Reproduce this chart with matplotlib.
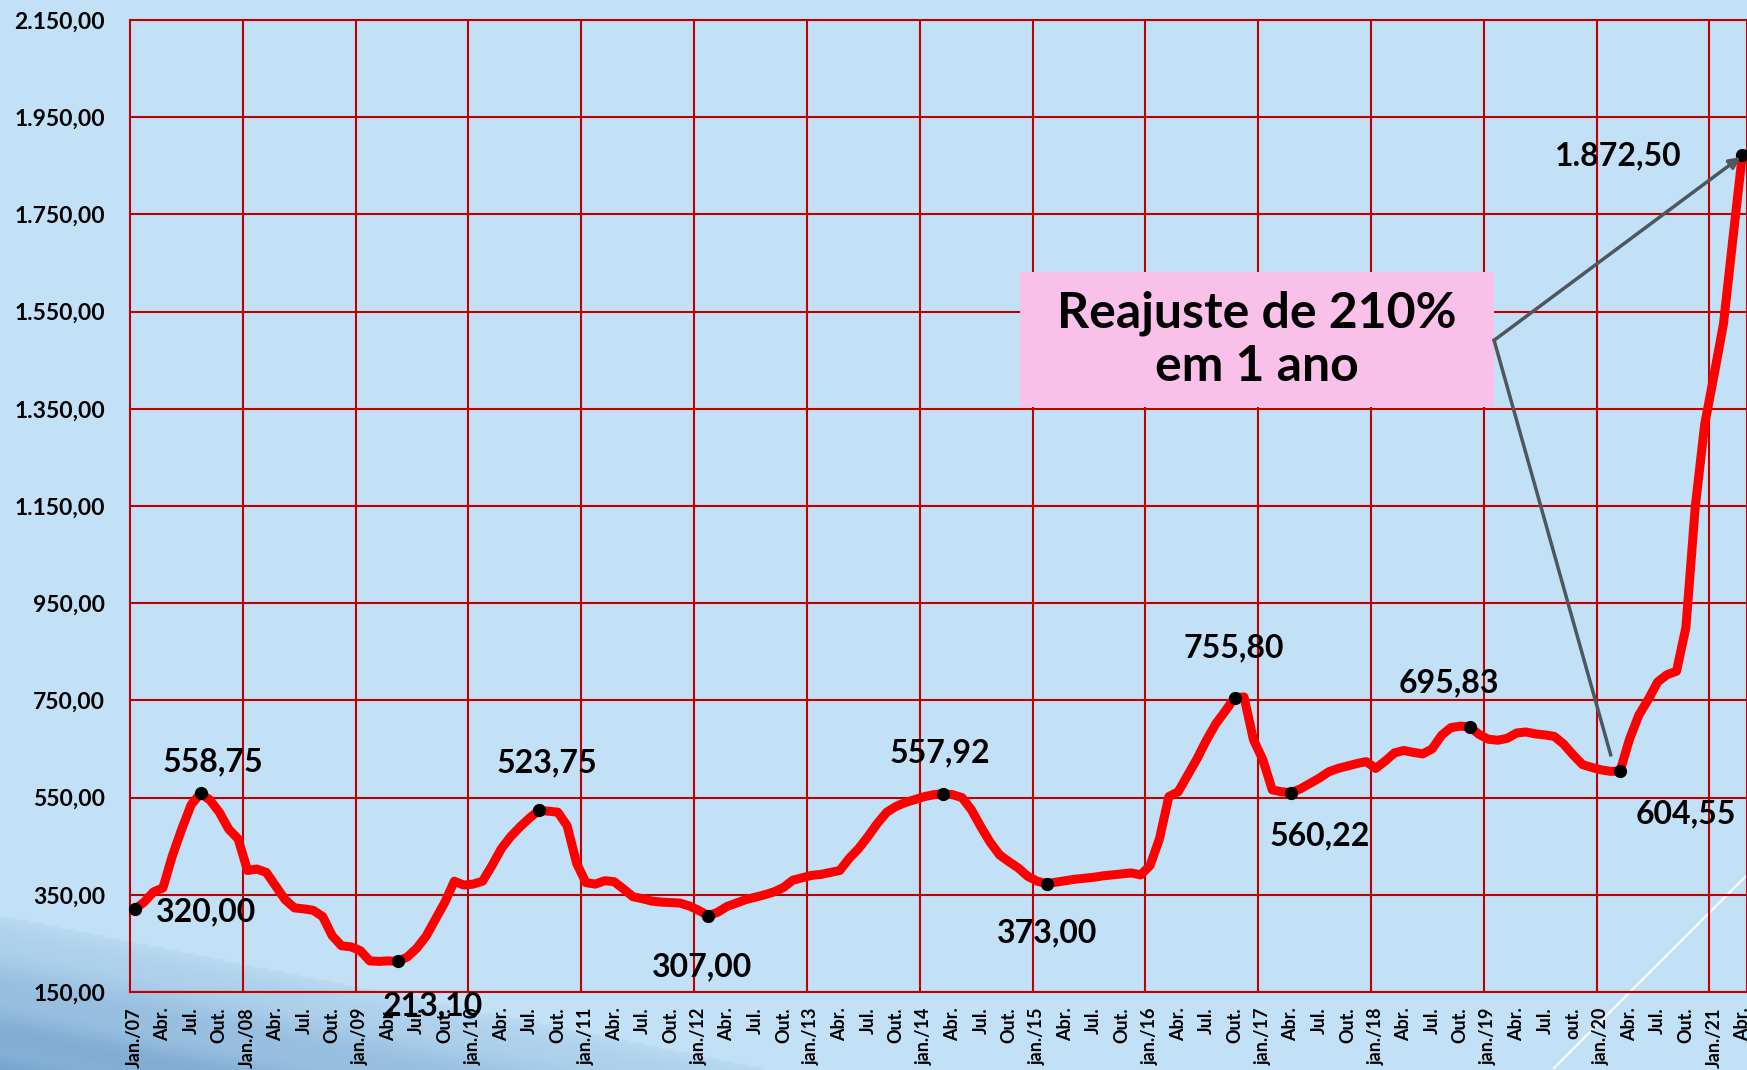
import numpy as np
import matplotlib
matplotlib.use('Agg')
from matplotlib import pyplot as plt
from matplotlib.ticker import FuncFormatter, FixedLocator
from matplotlib.patches import Rectangle

# preco mensal, jan/2007 .. abr/2021
precos = [
    320, 335, 356, 364, 430, 485, 535, 558.75, 545, 520, 485, 465,        # 2007
    400, 403, 396, 368, 340, 323, 321, 318, 305, 266, 245, 243,           # 2008
    235, 214, 213, 214, 213.10, 222, 240, 265, 300, 335, 378, 370,        # 2009
    372, 378, 410, 445, 470, 490, 508, 523.75, 522, 520, 492, 415,        # 2010
    375, 372, 379, 377, 362, 346, 342, 337, 335, 334, 333, 327,           # 2011
    318, 307, 314, 326, 333, 340, 345, 350, 356, 365, 380, 385,           # 2012
    390, 392, 396, 400, 425, 445, 470, 497, 520, 532, 540, 546,           # 2013
    552, 556, 557.92, 556, 550, 525, 490, 458, 432, 418, 405, 388,        # 2014
    378, 373, 376, 379, 382, 384, 386, 389, 391, 393, 395, 391,           # 2015
    410, 465, 552, 562, 596, 630, 668, 702, 728, 755.80, 757, 669,        # 2016
    628, 566, 562, 560.22, 568, 579, 590, 603, 610, 615, 620, 624,        # 2017
    610, 625, 642, 647, 643, 640, 650, 678, 694, 697, 695.83, 680,        # 2018
    670, 668, 672, 683, 685, 681, 679, 676, 660, 638, 618, 612,           # 2019
    607, 604, 604.55, 670, 720, 752, 788, 803, 810, 900, 1149, 1318,      # 2020
    1420, 1525, 1700, 1872.50,                                            # 2021
]

# rotulos trimestrais do eixo x
rotulos_x = [
    'Jan./07', 'Abr.', 'Jul.', 'Out.', 'Jan./08', 'Abr.', 'Jul.', 'Out.',
    'jan./09', 'Abr.', 'Jul.', 'Out.', 'jan./10', 'Abr.', 'Jul.', 'Out.',
    'jan./11', 'Abr.', 'Jul.', 'Out.', 'jan./12', 'Abr.', 'Jul.', 'Out.',
    'jan./13', 'Abr.', 'Jul.', 'Out.', 'jan./14', 'Abr.', 'Jul.', 'Out.',
    'jan./15', 'Abr.', 'Jul.', 'Out.', 'jan./16', 'Abr.', 'Jul.', 'Out.',
    'jan./17', 'Abr.', 'Jul.', 'Out.', 'jan./18', 'Abr.', 'Jul.', 'Out.',
    'jan./19', 'Abr.', 'Jul.', 'out.', 'jan./20', 'Abr.', 'Jul.', 'Out.',
    'Jan./21', 'Abr.',
]

# valores do eixo y
ticks_y = [150, 350, 550, 750, 950, 1150, 1350, 1550, 1750, 1950, 2150]

# pontos destacados (indice do mes) e onde fica o rotulo (mes, valor)
destaques = [0, 7, 28, 43, 61, 86, 97, 117, 123, 142, 158, 171]
pos_rotulos = [(7.6, 315), (8.3, 624), (31.7, 122), (43.8, 622), (60.3, 201),
               (85.6, 642), (97.0, 271), (116.9, 859), (126.0, 471),
               (139.8, 787), (165.0, 517), (157.8, 1870)]

texto_caixa = 'Reajuste de 210%\nem 1 ano'

FUNDO = '#C3E1F6'
GRADE = '#C00000'
FONTE = ['Lato', 'DejaVu Sans']


def br(v, pos=None):
    s = f'{v:,.2f}'
    return s.replace(',', 'X').replace('.', ',').replace('X', '.')


def main():
    plt.rcParams['font.family'] = FONTE
    plt.rcParams['font.weight'] = 'bold'

    fig = plt.figure(figsize=(17.47, 10.70), dpi=100)
    fig.patch.set_facecolor(FUNDO)

    # fundo com degrade azul no canto inferior esquerdo e linha branca
    bg = fig.add_axes([0, 0, 1, 1], zorder=0)
    bg.set_xlim(0, 1747)
    bg.set_ylim(1070, 0)
    bg.axis('off')
    X, Y = np.meshgrid(np.arange(0, 1747, 3), np.arange(0, 1070, 3))
    d = Y - (915 + 0.2 * X)
    a = np.clip(0.12 + d / 190.0, 0, 1) * (d > 0)
    a = a * (0.92 + 0.08 * np.sin(d / 8.0))
    img = np.zeros(X.shape + (4,))
    img[..., 0] = 0x4A / 255
    img[..., 1] = 0x82 / 255
    img[..., 2] = 0xB8 / 255
    img[..., 3] = np.clip(a, 0, 1) * 0.75
    bg.imshow(img, extent=(0, 1747, 1070, 0), interpolation='bilinear', aspect='auto')
    bg.plot([1554, 1747], [1068, 875], color='white', lw=1.5)

    ax = fig.add_axes([130 / 1747, 78 / 1070, 1 - 130 / 1747, 972 / 1070], zorder=1)
    ax.patch.set_alpha(0)

    n = len(precos)
    meses = np.arange(n)
    ax.set_xlim(-0.5, n - 0.5)
    ax.set_ylim(150, 2150)

    # grade
    ax.yaxis.set_major_locator(FixedLocator(ticks_y))
    ax.yaxis.set_major_formatter(FuncFormatter(br))
    ax.xaxis.set_major_locator(FixedLocator(np.arange(0, n, 3)))
    ax.set_xticklabels(rotulos_x, rotation=90, fontsize=13, fontweight='bold')
    ax.xaxis.set_minor_locator(FixedLocator(np.arange(11.5, n - 1, 12)))
    ax.grid(False)
    ax.grid(True, which='minor', axis='x', color=GRADE, lw=1.5)
    ax.grid(True, which='major', axis='y', color=GRADE, lw=1.5)
    ax.tick_params(axis='x', which='both', length=0, pad=11)
    ax.tick_params(axis='y', length=0, pad=18, labelsize=16.5)
    for lab in ax.get_yticklabels():
        lab.set_fontweight('bold')
    for s in ax.spines.values():
        s.set_color(GRADE)
        s.set_linewidth(1.5)

    ax.plot(meses, precos, color='#FF0000', lw=6.5, solid_joinstyle='round',
            solid_capstyle='round', zorder=3)
    ax.plot(meses[destaques], np.array(precos)[destaques], 'o', color='black',
            ms=8.5, zorder=4, clip_on=False)

    for i, (px, py) in zip(destaques, pos_rotulos):
        ax.text(px, py, br(precos[i]), fontsize=23, fontweight='bold',
                ha='center', va='center', zorder=5, clip_on=False)

    # caixa de destaque
    ax.add_patch(Rectangle((94.2, 1353), 50.4, 278, facecolor='#F9C1EA',
                           edgecolor='none', zorder=4))
    ax.text(119.4, 1492, texto_caixa, fontsize=36, fontweight='bold',
            ha='center', va='center', linespacing=1.2, zorder=5)

    cinza = '#4D575D'
    ax.annotate('', xy=(170.8, 1868), xytext=(144.6, 1491),
                arrowprops=dict(arrowstyle='-|>', color=cinza, lw=2.5,
                                mutation_scale=16, shrinkA=0, shrinkB=0),
                zorder=6)
    ax.plot([144.6, 157.0], [1491, 638], color=cinza, lw=2.5, zorder=6)

    fig.savefig('out.png', dpi=100, facecolor=fig.get_facecolor())


if __name__ == '__main__':
    main()
